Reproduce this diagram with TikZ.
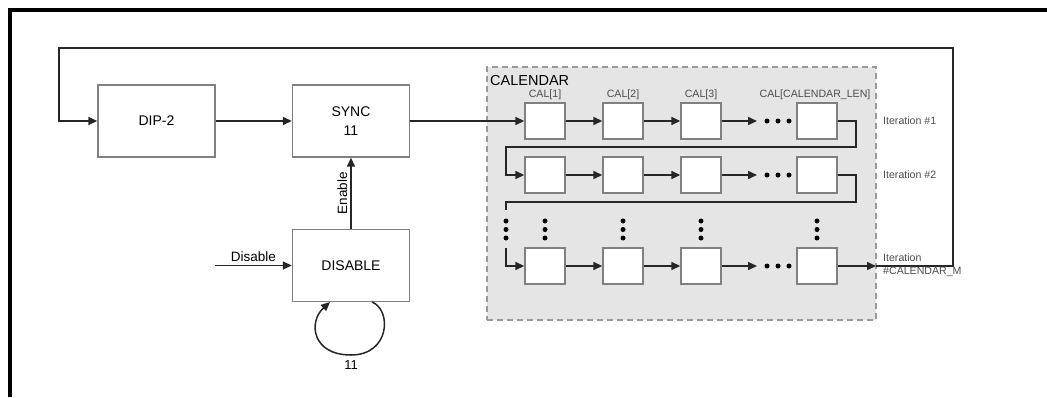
\documentclass[tikz,border=0pt]{standalone}
\usepackage{fontspec}
\setmainfont{Liberation Sans}
\usetikzlibrary{arrows.meta}
\begin{document}
\begin{tikzpicture}[x=1pt,y=-1pt,
  bigbox/.style={draw=black!50, line width=1.4pt, fill=white, minimum width=117pt, minimum height=72pt, inner sep=0pt, font=\fontsize{14}{19.5}\selectfont, align=center},
  calbox/.style={draw=black!50, line width=1.4pt, fill=white, minimum width=40pt, minimum height=36pt, inner sep=0pt},
  conn/.style={draw=black!85, line width=1.5pt},
  arr/.style={conn, -{Triangle[length=9pt,width=8pt]}},
  lbl/.style={font=\fontsize{13.5}{15}\selectfont},
  small/.style={font=\fontsize{10.6}{13}\selectfont, text=black!70, inner sep=0pt},
  dotc/.style={circle, fill=black, inner sep=0pt, minimum size=5pt},
  region/.style={draw=black!40, dashed, dash pattern=on 6pt off 4pt, line width=1.4pt, fill=black!10}
]
\useasboundingbox (0,0) rectangle (1047,397);
% outer frame
\draw[line width=3.2pt] (10,397) -- (10,10) -- (1050,10);

% calendar region
\node[region, minimum width=389pt, minimum height=253pt, inner sep=0pt] (cal) at (681.5,193.5) {};
\node[anchor=base west, inner sep=0pt, font=\fontsize{14.5}{16}\selectfont] (caltitle) at (490,85) {CALENDAR};

% main boxes
\node[bigbox] (dip) at (156.5,121) {DIP-2};
\node[bigbox] (sync) at (351,121) {SYNC\\11};
\node[bigbox] (dis) at (351,265.5) {DISABLE};

% calendar boxes
\foreach \r/\y in {1/121,2/175,3/266}{
  \foreach \c/\x in {1/545,2/623,3/701,4/817}{
    \node[calbox] (c\r\c) at (\x,\y) {};
  }
  \draw[arr] (c\r1.east) -- (c\r2.west);
  \draw[arr] (c\r2.east) -- (c\r3.west);
  \coordinate (e\r) at (757,\y);
  \draw[arr] (c\r3.east) -- (e\r);
  \foreach \dx in {767,778,789}{ \node[dotc] (hd\r\dx) at (\dx,\y) {}; }
}

\node[small] (l1) at (545,95) {CAL[1]};
\node[small] (l2) at (623,95) {CAL[2]};
\node[small] (l3) at (701,95) {CAL[3]};
\node[small] (l4) at (815,95) {CAL[CALENDAR\_LEN]};

% vertical dots
\foreach \x in {506,545,623,701,817}{
  \foreach \dy in {221,229.5,238}{ \node[dotc] (vd\x\dy) at (\x,\dy) {}; }
}

% row wraps
\coordinate (w1a) at (856,147);
\coordinate (w1b) at (506,147);
\draw[arr] (c14.east) -| (w1a) -- (w1b) |- (c21.west);
\coordinate (w2a) at (856,202);
\coordinate (w2b) at (506,202);
\coordinate (w2c) at (506,210);
\draw[conn] (c24.east) -| (w2a) -- (w2b) -- (w2c);
\coordinate (w3a) at (506,248);
\draw[arr] (w3a) |- (c31.west);

% iteration output and feedback
\coordinate (iterout) at (876,266);
\draw[arr] (c34.east) -- (iterout);
\coordinate (fbA) at (953,48);
\coordinate (fbB) at (59,48);
\draw[arr] (iterout) -| (fbA) -- (fbB) |- (dip.west);

\node[small, anchor=west] (it1) at (883,121) {Iteration \#1};
\node[small, anchor=west] (it2) at (883,175) {Iteration \#2};
\node[small, anchor=west] (it3) at (883,258) {Iteration};
\node[small, anchor=west] (it4) at (883,272) {\#CALENDAR\_M};

% main connections
\draw[arr] (dip.east) -- (sync.west);
\draw[arr] (sync.east) -- (c11.west);
\draw[arr] (dis.north) -- node[lbl, rotate=90, above, inner sep=3pt] {Enable} (sync.south);
\coordinate (disin) at (215,265.5);
\draw[arr] (disin) -- node[lbl, above, inner sep=3pt] {Disable} (dis.west);

% self loop
\coordinate (loopA) at (372,302);
\coordinate (loopB) at (351,355);
\coordinate (loopC) at (330,302);
\draw[arr] (loopA) .. controls (392,310) and (390,355) .. (loopB) .. controls (312,355) and (308,322) .. (loopC);
\node[lbl, font=\fontsize{13}{15}\selectfont] (loopl) at (351,365) {11};
\end{tikzpicture}
\end{document}
